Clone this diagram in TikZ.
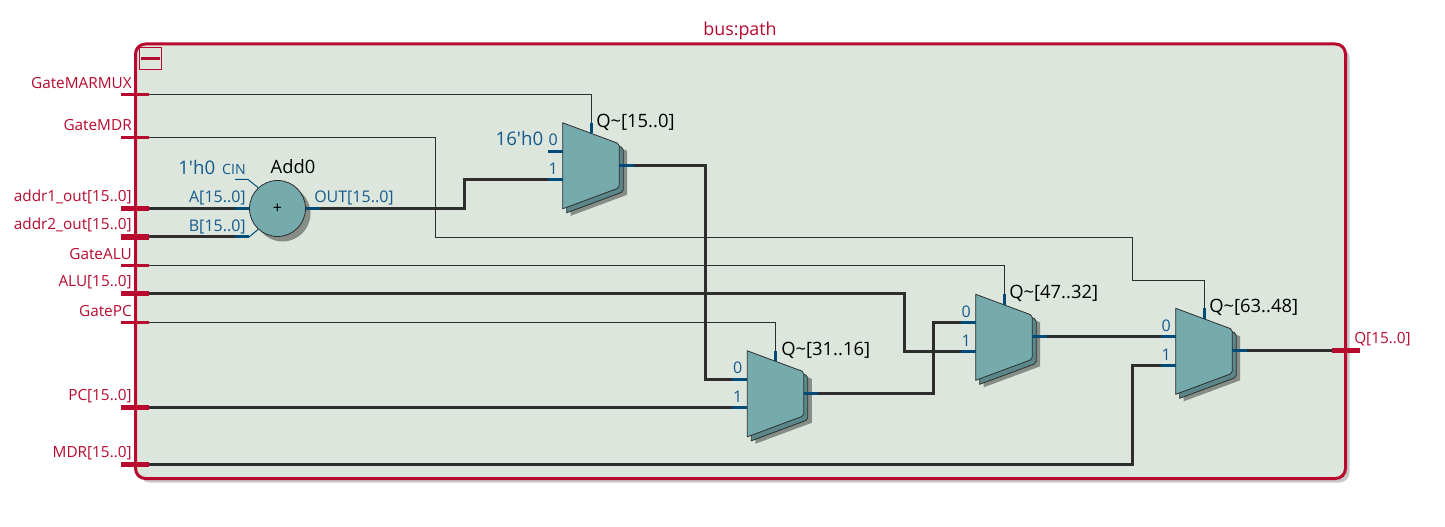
\documentclass[tikz,border=0pt]{standalone}
\usepackage{fontspec}
\setmainfont{Open Sans}
\usetikzlibrary{calc,positioning}
\definecolor{panel}{HTML}{DDE6DD}
\definecolor{frame}{HTML}{B70A2E}
\definecolor{frameshade}{HTML}{C8C8C8}
\definecolor{cell}{HTML}{75ABAD}
\definecolor{cellback}{HTML}{5A8789}
\definecolor{cellshade}{HTML}{868C86}
\definecolor{pin}{HTML}{004B78}
\definecolor{pintext}{HTML}{145A8C}
\definecolor{wire}{HTML}{2E2E2E}
\tikzset{
  portthin/.style={fill=frame, inner sep=0pt, minimum width=21pt, minimum height=2.2pt},
  portbus/.style={fill=frame, inner sep=0pt, minimum width=21pt, minimum height=3.8pt},
  portlab/.style={text=frame, font=\fontsize{11.5}{13}\selectfont, inner sep=0pt},
  pinlab/.style={text=pintext, font=\fontsize{12}{14}\selectfont, inner sep=0pt},
  bigpin/.style={text=pintext, font=\fontsize{14}{16}\selectfont, inner sep=0pt},
  celllab/.style={text=black, font=\fontsize{13.8}{16}\selectfont, inner sep=0pt},
  ctrl/.style={draw=wire, line width=0.75pt},
  bus/.style={draw=wire, line width=2.25pt, line join=miter},
  stubthin/.style={draw=pin, line width=0.75pt},
  stub/.style={draw=pin, line width=2.25pt},
  muxcell/.pic={
    \path[fill=cellshade] (8,7) -- (64.5,28) -- (64.5,72) -- (8,93) -- cycle;
    \draw[fill=cellback, draw=wire, line width=0.6pt] (4,4) [rounded corners=1.5pt] -- (60.5,25) -- (60.5,69) [sharp corners] -- (4,90) -- cycle;
    \draw[fill=cell, draw=wire, line width=0.6pt] (0,0) [rounded corners=1.5pt] -- (56.5,21) -- (56.5,65) [sharp corners] -- (0,86) -- cycle;
    \coordinate (-a) at (-15,28.5);
    \coordinate (-b) at (-15,57);
    \coordinate (-q) at (71,42.5);
    \coordinate (-s) at (28.5,0);
    \draw[stub] (-15,28.5) -- (0,28.5);
    \draw[stub] (-15,57) -- (0,57);
    \draw[stub] (56.5,42.5) -- (71,42.5);
    \draw[stub] (28.5,0) -- (28.5,10.5);
    \node[pinlab,anchor=center] (-lab0) at (-9.5,17) {0};
    \node[pinlab,anchor=center] (-lab1) at (-9.5,46) {1};
  },
}
\begin{document}
\begin{tikzpicture}[x=0.75pt,y=-0.75pt]
  \useasboundingbox (0,-0.5) rectangle (1445,526.5);
  % frame
  \draw[fill=frameshade, draw=none, rounded corners=7.5pt] (139.5,47.5) rectangle (1349.5,482);
  \draw[fill=panel, draw=frame, line width=2.25pt, rounded corners=7.5pt] (135.5,43.5) rectangle (1345.5,478);
  \node[text=frame, font=\fontsize{13.4}{15}\selectfont, inner sep=0pt] (title) at (740,30) {bus:path};
  \draw[draw=frame, line width=0.75pt] (139.5,47.5) rectangle (161.5,69.5);
  \draw[draw=frame, line width=2.25pt] (141,58.5) -- (160,58.5);
  % ports
  \node[portthin] (gatemarmux) at (135,94) {};
  \node[portthin] (gatemdr) at (135,137) {};
  \node[portbus] (addr1) at (135,208) {};
  \node[portbus] (addr2) at (135,236.5) {};
  \node[portthin] (gatealu) at (135,265) {};
  \node[portbus] (alu) at (135,293) {};
  \node[portthin] (gatepc) at (135,322) {};
  \node[portbus] (pc) at (135,407.3) {};
  \node[portbus] (mdr) at (135,464) {};
  \node[portlab,anchor=east] (lmarmux) at (132,82.5) {GateMARMUX};
  \node[portlab,anchor=east] (lmdrgate) at (132,125) {GateMDR};
  \node[portlab,anchor=east] (laddr1) at (132,196.5) {addr1\_out[15..0]};
  \node[portlab,anchor=east] (laddr2) at (132,224.5) {addr2\_out[15..0]};
  \node[portlab,anchor=east] (lalugate) at (132,253.5) {GateALU};
  \node[portlab,anchor=east] (lalu) at (132,281.5) {ALU[15..0]};
  \node[portlab,anchor=east] (lpcgate) at (132,310.5) {GatePC};
  \node[portlab,anchor=east] (lpc) at (132,395.5) {PC[15..0]};
  \node[portlab,anchor=east] (lmdr) at (132,452.5) {MDR[15..0]};
  \node[portlab,anchor=west] (lq) at (1354,338.5) {Q[15..0]};
  % adder
  \fill[cellshade] (282.5,213) circle (28);
  \node[circle, draw=wire, fill=cell, line width=0.6pt, minimum size=42pt, inner sep=0pt, font=\fontsize{12}{14}\selectfont] (add) at (277.5,208) {+};
  \coordinate (adda) at (235,208);
  \coordinate (addb) at (235,236.5);
  \coordinate (addq) at (320,208);
  \draw[stub] (adda) -- (add.west);
  \draw[stub] (addb) -- (249,236.5);
  \draw[stub] (add.east) -- (addq);
  \draw[stubthin] (249,236.5) -- (258,229);
  \draw[stubthin] (235,179) -- (248,179) -- (258,187);
  \node[celllab,anchor=center] (addlab) at (293,166.5) {Add0};
  \node[bigpin,anchor=east] (cinval) at (215.5,167) {1\textquotesingle h0};
  \node[text=pintext,font=\fontsize{10.6}{12}\selectfont,inner sep=0pt,anchor=east] (cinlab) at (246,168.5) {CIN};
  \node[pinlab,anchor=east] (alab) at (246,197.5) {A[15..0]};
  \node[pinlab,anchor=east] (blab) at (246,226) {B[15..0]};
  \node[pinlab,anchor=west] (outlab) at (314,197.5) {OUT[15..0]};
  % muxes
  \pic (mone) at (562.7,122.3) {muxcell};
  \pic (mtwo) at (747.3,350.3) {muxcell};
  \pic (mthree) at (975.7,293.8) {muxcell};
  \pic (mfour) at (1175.7,307.8) {muxcell};
  \node[celllab,anchor=west] (qone) at (596,122) {Q\textasciitilde[15..0]};
  \node[celllab,anchor=west] (qtwo) at (781,350) {Q\textasciitilde[31..16]};
  \node[celllab,anchor=west] (qthree) at (1009,293) {Q\textasciitilde[47..32]};
  \node[celllab,anchor=west] (qfour) at (1209,307) {Q\textasciitilde[63..48]};
  \node[bigpin,anchor=east] (zero) at (543.5,138.5) {16\textquotesingle h0};
  % control wires
  \draw[ctrl] (gatemarmux.east) -| (mone-s);
  \draw[ctrl] (gatemdr.east) -- (435,137) -- (435,237) -- (1132.5,237) -- (1132.5,279.5) -| (mfour-s);
  \draw[ctrl] (gatealu.east) -| (mthree-s);
  \draw[ctrl] (gatepc.east) -| (mtwo-s);
  % bus wires
  \draw[bus] (addr1.east) -- (adda);
  \draw[bus] (addr2.east) -- (addb);
  \draw[bus] (addq) -- (464,208) |- (mone-b);
  \draw[bus] (mone-q) -- (705.5,164.8) |- (mtwo-a);
  \draw[bus] (pc.east) -- (mtwo-b);
  \draw[bus] (mtwo-q) -- (933.5,392.8) |- (mthree-a);
  \draw[bus] (alu.east) -- (904.5,293) |- (mthree-b);
  \draw[bus] (mthree-q) -- (mfour-a);
  \draw[bus] (mdr.east) -- (1132.5,464) |- (mfour-b);
  \coordinate (qin) at (1332,350.3);
  \draw[bus] (mfour-q) -- (qin);
  \node[portbus] (qout) at (1346,350.3) {};
\end{tikzpicture}
\end{document}
